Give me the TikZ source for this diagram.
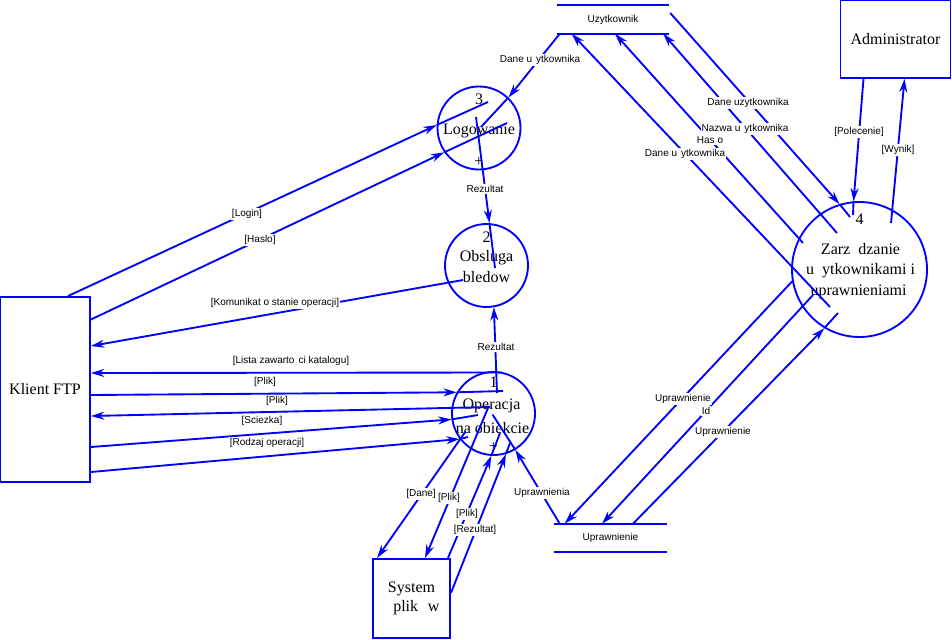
\documentclass[tikz,border=0pt]{standalone}
\usepackage{fontspec}
\setmainfont{Liberation Serif}
\newfontfamily\labfamily{Liberation Sans}
\usetikzlibrary{arrows.meta,calc}
\newcommand\lblfont{\labfamily\fontsize{7.5}{8.5}\selectfont}
\newcommand\nodefont{\rmfamily\fontsize{12}{14}\selectfont}
\definecolor{dfdblue}{RGB}{0,0,255}
\begin{document}
\begin{tikzpicture}[x=0.75pt,y=-0.75pt,
  proc/.style={circle, draw=dfdblue, line width=1.4pt, minimum size=62.25pt, inner sep=0pt},
  ent/.style={rectangle, draw=dfdblue, line width=1.4pt, font=\nodefont, align=center, inner sep=0pt},
  store/.style={minimum width=84pt, minimum height=21pt, inner sep=0pt, font=\lblfont},
  lbl/.style={font=\lblfont, fill=white, inner sep=0.8pt},
  ntext/.style={font=\nodefont, inner sep=0pt},
  flow/.style={draw=dfdblue, line width=1.4pt, -{Stealth[length=10pt,width=6pt]}},
  wire/.style={draw=dfdblue, line width=1.4pt}]
\useasboundingbox (0,0) rectangle (952,639);

% processes
\node[proc] (c3) at (479,128) {};
\node[proc] (c2) at (486.5,265.5) {};
\node[proc] (c1) at (493.5,413.5) {};
\node[proc, minimum size=101.25pt] (c4) at (859.5,269.5) {};

% entities
\node[ent, minimum width=67.5pt, minimum height=138.75pt] (klient) at (45,389.5) {Klient FTP};
\node[ent, minimum width=82.5pt, minimum height=58.5pt] (admin) at (895.5,39) {Administrator};
\node[ent, minimum width=57.75pt, minimum height=59.25pt] (system) at (411.5,598.5) {System\\\hspace{0.6em}plik\hspace{0.6em}w};

% stores
\node[store] (uz) at (613,19.5) {Uzytkownik};
\node[store, minimum width=84.75pt] (up) at (610.5,538) {Uprawnienie};
\draw[wire] (uz.north west) -- (uz.north east) (uz.south west) -- (uz.south east);
\draw[wire] (up.north west) -- (up.north east) (up.south west) -- (up.south east);

% texts inside processes
\node[ntext] (c3a) at ($(c3)+(0,-29)$) {3};
\node[ntext] (c3b) at ($(c3)+(0,3)$) {Logowanie};
\node[ntext] (c3c) at ($(c3)+(0,34)$) {+};
\node[ntext] (c2a) at ($(c2)+(0,-28.5)$) {2};
\node[ntext] (c2b) at ($(c2)+(0,-8)$) {Obsluga};
\node[ntext] (c2c) at ($(c2)+(0,12)$) {bledow};
\node[ntext] (c1a) at ($(c1)+(0,-31.5)$) {1};
\node[ntext] (c1b) at ($(c1)+(-2,-8)$) {Operacja};
\node[ntext] (c1c) at ($(c1)+(-1,15)$) {na obiekcie};
\node[ntext] (c1d) at ($(c1)+(0,33.5)$) {+};
\node[ntext] (c4a) at ($(c4)+(0,-50.5)$) {4};
\node[ntext] (c4b) at ($(c4)+(1,-20.5)$) {Zarz\hspace{0.5em}dzanie};
\node[ntext] (c4c) at ($(c4)+(1,1.5)$) {u\hspace{0.5em}ytkownikami i};
\node[ntext] (c4d) at ($(c4)+(-1,22.5)$) {uprawnieniami};

% Logowanie
\draw[flow] ($(klient.north east)+(-23,0)$) -- (c3.176);
\draw[wire] (c3.176) -- ($(c3)+(9,-26)$);
\draw[flow] ($(klient.east)+(0,-70)$) -- (c3.215);
\draw[wire] (c3.215) -- ($(c3)+(28,-5)$);
\draw[flow] ($(uz.south west)+(3,0)$) -- (c3.46);
\draw[wire] (c3.46) -- ($(c3)+(2,-1)$);
\draw[flow] ($(c3)+(-3,-11)$) -- (c2.86);
\draw[wire] (c2.86) -- ($(c2)+(8.5,2.5)$);

% Obsluga bledow
\draw[flow] ($(c2)+(-23.5,14.5)$) -- ($(klient.east)+(0,-43.5)$);
\draw[flow] ($(c1)+(3.5,-20.5)$) -- (c2.280);

% Operacja <-> Klient
\draw[flow] ($(c1)+(8,-41)$) -- ($(klient.east)+(0,-16.5)$);
\draw[flow] ($(klient.east)+(0,5.5)$) -- (c1.150);
\draw[wire] (c1.150) -- ($(c1)+(9.5,-22.5)$);
\draw[flow] ($(c1)+(-3.5,-6.5)$) -- ($(klient.east)+(0,26.5)$);
\draw[flow] ($(klient.east)+(0,57.5)$) -- (c1.188);
\draw[wire] (c1.188) -- ($(c1)+(-15.5,1.5)$);
\draw[flow] ($(klient.east)+(0,82.5)$) -- (c1.217);
\draw[wire] (c1.217) -- ($(c1)+(-25.5,23.5)$);

% Operacja <-> System plikow
\draw[flow] ($(c1)+(-28,18)$) -- ($(system.north west)+(5,0)$);
\draw[flow] ($(c1)+(-5.5,-5.5)$) -- ($(system.north)+(13.5,0)$);
\draw[flow] ($(system.north east)+(-3,0)$) -- (c1.267);
\draw[wire] (c1.267) -- ($(c1)+(6.5,19.5)$);
\draw[flow] ($(system.east)+(0,-5.5)$) -- (c1.287);
\draw[wire] (c1.287) -- ($(c1)+(16.5,29.5)$);

% Uprawnienie -> Operacja
\draw[flow] ($(up.north west)+(6,0)$) -- (c1.301);
\draw[wire] (c1.301) -- ($(c1)+(-1,1)$);

% Zarzadzanie <-> Uzytkownik
\draw[flow] ($(uz.east)+(1,-6.5)$) -- (c4.107);
\draw[wire] (c4.107) -- ($(c4)+(-9.5,-52.5)$);
\draw[flow] ($(c4)+(-22.5,-36.5)$) -- ($(uz.south east)+(-6,0)$);
\draw[flow] ($(c4)+(-56.5,-26.5)$) -- ($(uz.south)+(2,0)$);
\draw[flow] ($(c4)+(-29.5,37.5)$) -- ($(uz.south west)+(15,0)$);

% Zarzadzanie <-> Administrator
\draw[flow] ($(admin.south)+(-32,0)$) -- (c4.95);
\draw[wire] (c4.95) -- ($(c4)+(-6.5,-54.5)$);
\draw[flow] ($(c4)+(31.5,-46.5)$) -- ($(admin.south)+(9,0)$);

% Zarzadzanie <-> Uprawnienie
\draw[flow] (c4.190) -- ($(up.north west)+(11,0)$);
\draw[flow] ($(c4)+(-46.5,25.5)$) -- ($(up.north)+(-8.5,0)$);
\draw[flow] ($(up.north)+(22.5,0)$) -- (c4.239);
\draw[wire] (c4.239) -- ($(c4)+(-21.5,43.5)$);

% labels
\node[lbl] (l1) at (540,60) {Dane u\hspace{0.4em}ytkownika};
\node[lbl] (l2) at (247,214) {[Login]};
\node[lbl] (l3) at (260,240) {[Haslo]};
\node[lbl] (l4) at (485,189) {Rezultat};
\node[lbl] (l5) at (275,303) {[Komunikat o stanie operacji]};
\node[lbl] (l6) at (496,347) {Rezultat};
\node[lbl] (l7) at (291,361) {[Lista zawarto\hspace{0.4em}ci katalogu]};
\node[lbl] (l8) at (265,382) {[Plik]};
\node[lbl] (l9) at (277,401) {[Plik]};
\node[lbl] (l10) at (262,421) {[Sciezka]};
\node[lbl] (l11) at (267,443) {[Rodzaj operacji]};
\node[lbl] (l12) at (421,494) {[Dane]};
\node[lbl] (l13) at (449,498) {[Plik]};
\node[lbl] (l14) at (467,514) {[Plik]};
\node[lbl] (l15) at (475,530) {[Rezultat]};
\node[lbl] (l16) at (542,493) {Uprawnienia};
\node[lbl] (l17) at (748,103) {Dane uzytkownika};
\node[lbl] (l18) at (745,129) {Nazwa u\hspace{0.4em}ytkownika};
\node[lbl] (l19) at (710,140) {Has\hspace{0.3em}o};
\node[lbl] (l20) at (685,154) {Dane u\hspace{0.4em}ytkownika};
\node[lbl] (l21) at (859,132) {[Polecenie]};
\node[lbl] (l22) at (898,150) {[Wynik]};
\node[lbl] (l23) at (683,399) {Uprawnienie};
\node[lbl] (l24) at (706,411) {Id};
\node[lbl] (l25) at (723,432) {Uprawnienie};
\end{tikzpicture}
\end{document}
